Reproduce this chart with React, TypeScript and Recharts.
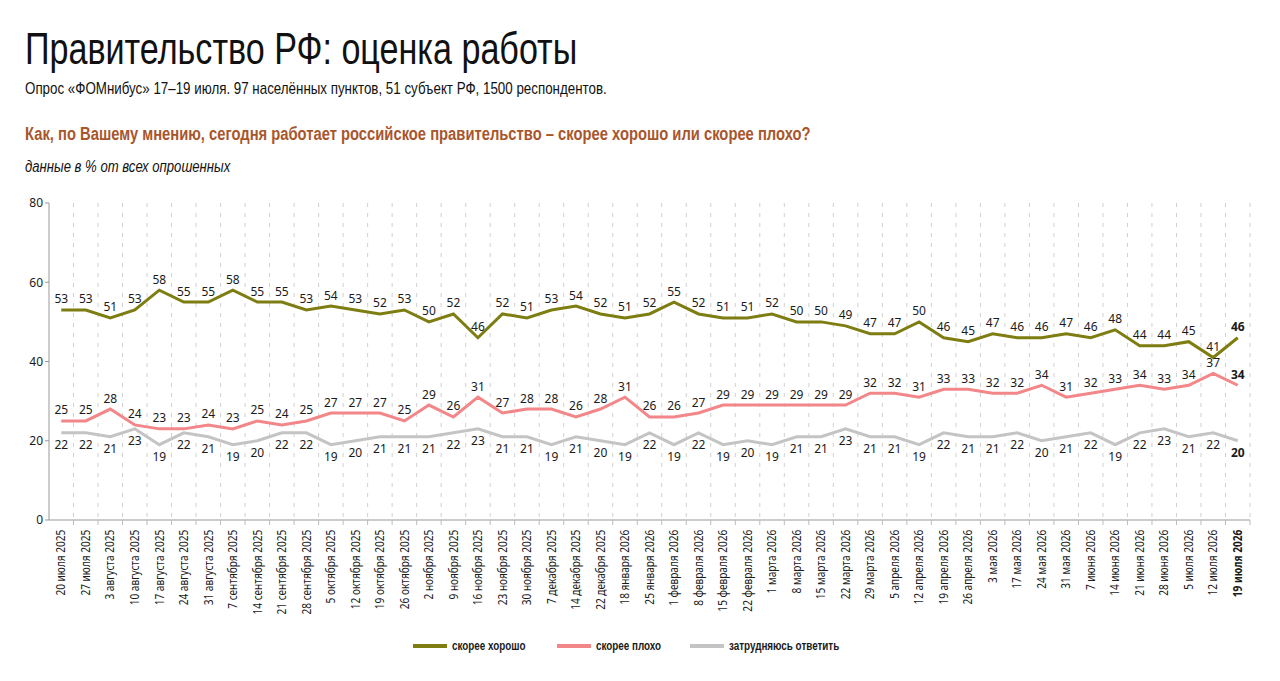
import React from 'react';
import { LineChart, Line, XAxis, YAxis, CartesianGrid, LabelList } from 'recharts';

const DATES = [
  '20 июля 2025', '27 июля 2025', '3 августа 2025', '10 августа 2025', '17 августа 2025',
  '24 августа 2025', '31 августа 2025', '7 сентября 2025', '14 сентября 2025', '21 сентября 2025',
  '28 сентября 2025', '5 октября 2025', '12 октября 2025', '19 октября 2025', '26 октября 2025',
  '2 ноября 2025', '9 ноября 2025', '16 ноября 2025', '23 ноября 2025', '30 ноября 2025',
  '7 декабря 2025', '14 декабря 2025', '22 декабря 2025', '18 января 2026', '25 января 2026',
  '1 февраля 2026', '8 февраля 2026', '15 февраля 2026', '22 февраля 2026', '1 марта 2026',
  '8 марта 2026', '15 марта 2026', '22 марта 2026', '29 марта 2026', '5 апреля 2026',
  '12 апреля 2026', '19 апреля 2026', '26 апреля 2026', '3 мая 2026', '17 мая 2026',
  '24 мая 2026', '31 мая 2026', '7 июня 2026', '14 июня 2026', '21 июня 2026',
  '28 июня 2026', '5 июля 2026', '12 июля 2026', '19 июля 2026',
];

// скорее хорошо
const GOOD = [
  53, 53, 51, 53, 58, 55, 55, 58, 55, 55, 53, 54, 53, 52, 53, 50, 52, 46, 52, 51, 53, 54, 52, 51, 52,
  55, 52, 51, 51, 52, 50, 50, 49, 47, 47, 50, 46, 45, 47, 46, 46, 47, 46, 48, 44, 44, 45, 41, 46,
];

// скорее плохо
const BAD = [
  25, 25, 28, 24, 23, 23, 24, 23, 25, 24, 25, 27, 27, 27, 25, 29, 26, 31, 27, 28, 28, 26, 28, 31, 26,
  26, 27, 29, 29, 29, 29, 29, 29, 32, 32, 31, 33, 33, 32, 32, 34, 31, 32, 33, 34, 33, 34, 37, 34,
];

// затрудняюсь ответить
const HARD = [
  22, 22, 21, 23, 19, 22, 21, 19, 20, 22, 22, 19, 20, 21, 21, 21, 22, 23, 21, 21, 19, 21, 20, 19, 22,
  19, 22, 19, 20, 19, 21, 21, 23, 21, 21, 19, 22, 21, 21, 22, 20, 21, 22, 19, 22, 23, 21, 22, 20,
];

const Y_TICKS = [0, 20, 40, 60, 80];

const SERIES = [
  { key: 'good', name: 'скорее хорошо', color: '#7d7d12', legendX: 413 },
  { key: 'bad', name: 'скорее плохо', color: '#f28688', legendX: 557 },
  { key: 'hard', name: 'затрудняюсь ответить', color: '#c4c4c4', legendX: 690 },
];

const data = DATES.map((date, i) => ({ date, good: GOOD[i], bad: BAD[i], hard: HARD[i] }));
const LAST = DATES.length - 1;

const NARROW = '"Liberation Sans", Arial, sans-serif';
const SANS = '"Noto Sans", "Open Sans", sans-serif';

// Liberation Sans squeezed to roughly Arial Narrow proportions
const narrowText = (extra: React.CSSProperties, squeeze = 0.82): React.CSSProperties => ({
  position: 'absolute',
  left: 25,
  fontFamily: NARROW,
  whiteSpace: 'nowrap',
  transform: `scaleX(${squeeze})`,
  transformOrigin: 'left center',
  lineHeight: 1,
  color: '#111',
  ...extra,
});

const makeLabel = (dy: number) => (props: any) => {
  const { x, y, value, index } = props;
  return (
    <text
      x={x}
      y={y + dy}
      textAnchor="middle"
      dominantBaseline="central"
      fontSize={12}
      fontFamily={SANS}
      fill="#1a1a1a"
      fontWeight={index === LAST ? 700 : 400}
    >
      {value}
    </text>
  );
};

const DateTick = (props: any) => {
  const { x, y, payload, index } = props;
  const half = 12.25;
  return (
    <g transform={`translate(${x},${y})`}>
      <line x1={half} y1={-8} x2={half} y2={-3} stroke="#bbb" />
      <text
        transform="rotate(-90) scale(0.84,1)"
        x={-2}
        y={0}
        dy="0.35em"
        textAnchor="end"
        fontSize={12}
        fontFamily={SANS}
        fill="#1a1a1a"
        fontWeight={index === LAST ? 700 : 400}
      >
        {payload.value}
      </text>
    </g>
  );
};

export default function App() {
  return (
    <div style={{ position: 'absolute', left: 0, top: 0, width: 1280, height: 681, background: '#fff' }}>
      <div style={narrowText({ top: 27, fontSize: 44 }, 0.775)}>Правительство РФ: оценка работы</div>
      <div style={narrowText({ top: 80, fontSize: 17 }, 0.785)}>
        Опрос «ФОМнибус» 17–19 июля. 97 населённых пунктов, 51 субъект РФ, 1500 респондентов.
      </div>
      <div style={narrowText({ top: 125, fontSize: 18, fontWeight: 700, color: '#a8562c' })}>
        Как, по Вашему мнению, сегодня работает российское правительство – скорее хорошо или скорее плохо?
      </div>
      <div style={narrowText({ top: 159, fontSize: 16, fontStyle: 'italic' })}>данные в % от всех опрошенных</div>

      <div style={{ position: 'absolute', left: 0, top: 0 }}>
        <LineChart width={1280} height={681} data={data} margin={{ top: 203, right: 30, bottom: 61, left: 9 }}>
          <CartesianGrid
            horizontal={false}
            stroke="#d0d0d0"
            strokeDasharray="4 6"
            verticalCoordinatesGenerator={({ offset }: any) =>
              DATES.map((_, i) => offset.left + ((i + 1) * offset.width) / DATES.length)
            }
          />
          <XAxis
            dataKey="date"
            interval={0}
            height={100}
            padding={{ left: 12.25, right: 12.25 }}
            tick={<DateTick />}
            tickLine={false}
            axisLine={{ stroke: '#999' }}
          />
          <YAxis
            domain={[0, 80]}
            ticks={Y_TICKS}
            width={40}
            tickSize={4}
            tickLine={{ stroke: '#999' }}
            axisLine={{ stroke: '#999' }}
            tick={{ fontSize: 12, fill: '#1a1a1a', fontFamily: SANS }}
          />
          {SERIES.map((s) => (
            <Line
              key={s.key}
              type="linear"
              dataKey={s.key}
              stroke={s.color}
              strokeWidth={3}
              dot={false}
              activeDot={false}
              isAnimationActive={false}
            >
              <LabelList dataKey={s.key} content={makeLabel(s.key === 'hard' ? 12 : -11)} />
            </Line>
          ))}
        </LineChart>
      </div>

      {SERIES.map((s) => (
        <React.Fragment key={s.key}>
          <div style={{ position: 'absolute', left: s.legendX, top: 644, width: 34, height: 4, background: s.color }} />
          <div style={narrowText({ left: s.legendX + 39, top: 640, fontSize: 12, fontWeight: 700, color: '#1a1a1a' })}>
            {s.name}
          </div>
        </React.Fragment>
      ))}
    </div>
  );
}
